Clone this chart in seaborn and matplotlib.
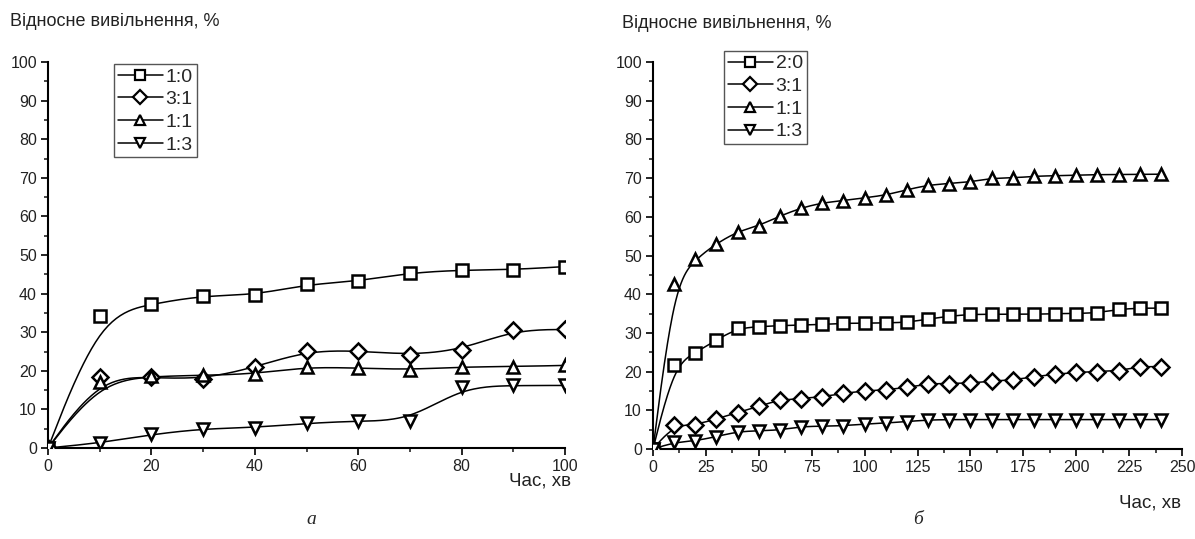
import numpy as np
import matplotlib
matplotlib.use("Agg")
import matplotlib.pyplot as plt
from matplotlib.lines import Line2D
from matplotlib.ticker import MultipleLocator
import seaborn as sns

# panel а: 0..100 min
t_a = [0, 10, 20, 30, 40, 50, 60, 70, 80, 90, 100]
a_10 = [0, 34.2, 37.3, 39.5, 39.6, 42.4, 43.2, 45.4, 46.1, 46.2, 47.0]
a_31 = [0, 18.3, 18.3, 17.8, 20.9, 25.2, 25.2, 24.1, 25.4, 30.6, 30.7]
a_11 = [0, 17.0, 18.6, 18.8, 19.2, 21.0, 20.7, 20.3, 21.0, 21.1, 21.4]
a_13 = [0, 1.3, 3.5, 5.0, 5.3, 6.4, 7.0, 7.1, 15.8, 16.2, 16.2]
labels_a = ["1:0", "3:1", "1:1", "1:3"]

# panel б: 0..240 min
t_b = [0, 10, 20, 30, 40, 50, 60, 70, 80, 90, 100, 110, 120,
       130, 140, 150, 160, 170, 180, 190, 200, 210, 220, 230, 240]
b_20 = [0, 21.7, 24.9, 28.2, 31.2, 31.6, 31.9, 32.0, 32.2, 32.5, 32.5, 32.6, 32.7,
        33.6, 34.3, 34.8, 34.8, 34.8, 34.8, 35.0, 35.0, 35.2, 36.1, 36.4, 36.4]
b_31 = [0, 6.2, 6.2, 7.8, 9.4, 11.1, 12.7, 13.0, 13.5, 14.4, 15.0, 15.3, 15.9,
        16.9, 16.9, 17.0, 17.6, 17.8, 18.7, 19.3, 19.8, 20.0, 20.2, 21.3, 21.3]
b_11 = [0, 42.6, 49.0, 53.1, 56.2, 57.7, 60.2, 62.3, 63.6, 64.2, 64.9, 65.6, 67.0,
        68.2, 68.6, 69.0, 70.0, 70.0, 70.5, 70.6, 70.8, 70.9, 70.9, 71.0, 71.0]
b_13 = [0, 1.7, 2.1, 3.2, 4.5, 4.7, 4.9, 5.8, 5.9, 6.0, 6.5, 6.7, 7.1,
        7.5, 7.6, 7.6, 7.6, 7.6, 7.6, 7.6, 7.6, 7.6, 7.6, 7.6, 7.6]
labels_b = ["2:0", "3:1", "1:1", "1:3"]

markers = ["s", "D", "^", "v"]


def bspline(xs, ys, n=25):
    # uniform cubic B-spline through the data as control points (clamped ends)
    P = np.column_stack([xs, ys]).astype(float)
    P = np.vstack([P[0], P[0], P, P[-1], P[-1]])
    u = np.linspace(0, 1, n, endpoint=False)[:, None]
    b0 = (1 - u) ** 3 / 6
    b1 = (3 * u**3 - 6 * u**2 + 4) / 6
    b2 = (-3 * u**3 + 3 * u**2 + 3 * u + 1) / 6
    b3 = u**3 / 6
    segs = [b0 * P[i] + b1 * P[i + 1] + b2 * P[i + 2] + b3 * P[i + 3]
            for i in range(len(P) - 3)]
    out = np.vstack(segs + [P[-1:]])
    return out[:, 0], out[:, 1]


sns.set_style("ticks")
plt.rcParams["font.family"] = ["Liberation Sans", "DejaVu Sans"]

fig = plt.figure(figsize=(11.95, 5.39), dpi=100)
ax1 = fig.add_axes([48 / 1195, 1 - 448 / 539, (565 - 48) / 1195, (448 - 62) / 539])
ax2 = fig.add_axes([653 / 1195, 1 - 449 / 539, (1182 - 653) / 1195, (449 - 62) / 539])


def draw(ax, t, series, labels, xmax, xmaj, legend_xy):
    handles = []
    for ys, m, lab in zip(series, markers, labels):
        sx, sy = bspline(t, ys)
        sns.lineplot(x=sx, y=sy, color="black", lw=1.1, sort=False,
                     estimator=None, ax=ax)
        ax.plot(t, ys, linestyle="none", marker=m, ms=8.5 if m != "D" else 8,
                mfc="white", mec="black", mew=1.8, zorder=3)
        handles.append(Line2D([], [], color="black", lw=1.1, marker=m,
                              ms=7.5 if m != "D" else 7, mfc="white",
                              mec="black", mew=1.6, label=lab))
    ax.set_xlim(0, xmax)
    ax.set_ylim(0, 100)
    ax.xaxis.set_major_locator(MultipleLocator(xmaj))
    ax.xaxis.set_minor_locator(MultipleLocator(xmaj / 2))
    ax.yaxis.set_major_locator(MultipleLocator(10))
    ax.yaxis.set_minor_locator(MultipleLocator(5))
    ax.tick_params(which="major", length=5, width=1.2, labelsize=11.5,
                   direction="out", colors="black", labelcolor="#222222", pad=3)
    ax.tick_params(which="minor", length=3, width=1.2, direction="out")
    for s in ["left", "bottom"]:
        ax.spines[s].set_linewidth(1.5)
        ax.spines[s].set_color("black")
    sns.despine(ax=ax)
    ax.set_xlabel("")
    ax.set_ylabel("")
    leg = ax.legend(handles=handles, loc="upper left",
                    bbox_to_anchor=legend_xy, bbox_transform=fig.transFigure,
                    fontsize=14, frameon=True, fancybox=False, framealpha=1,
                    edgecolor="#555555", borderpad=0.2, labelspacing=0.26,
                    handlelength=2.3, handletextpad=0.15, borderaxespad=0)
    leg.get_frame().set_linewidth(1.0)


draw(ax1, t_a, [a_10, a_31, a_11, a_13], labels_a, 100, 20,
     (114 / 1195, 1 - 64 / 539))
draw(ax2, t_b, [b_20, b_31, b_11, b_13], labels_b, 250, 25,
     (724 / 1195, 1 - 51 / 539))

ylab = "Відносне вивільнення, %"
fig.text(10 / 1195, 1 - 21 / 539, ylab, ha="left", va="center", fontsize=13,
         color="#222222")
fig.text(622 / 1195, 1 - 24 / 539, ylab, ha="left", va="center", fontsize=13,
         color="#222222")
fig.text(571 / 1195, 1 - 481 / 539, "Час, хв", ha="right", va="center",
         fontsize=13.5, color="#222222")
fig.text(1181 / 1195, 1 - 503 / 539, "Час, хв", ha="right", va="center",
         fontsize=13.5, color="#222222")
fig.text(311 / 1195, 1 - 519 / 539, "а", ha="center", va="center", fontsize=14,
         style="italic", family="Liberation Serif")
fig.text(918 / 1195, 1 - 519 / 539, "б", ha="center", va="center", fontsize=14,
         style="italic", family="Liberation Serif")

fig.savefig("out.png", dpi=100, facecolor="white")
